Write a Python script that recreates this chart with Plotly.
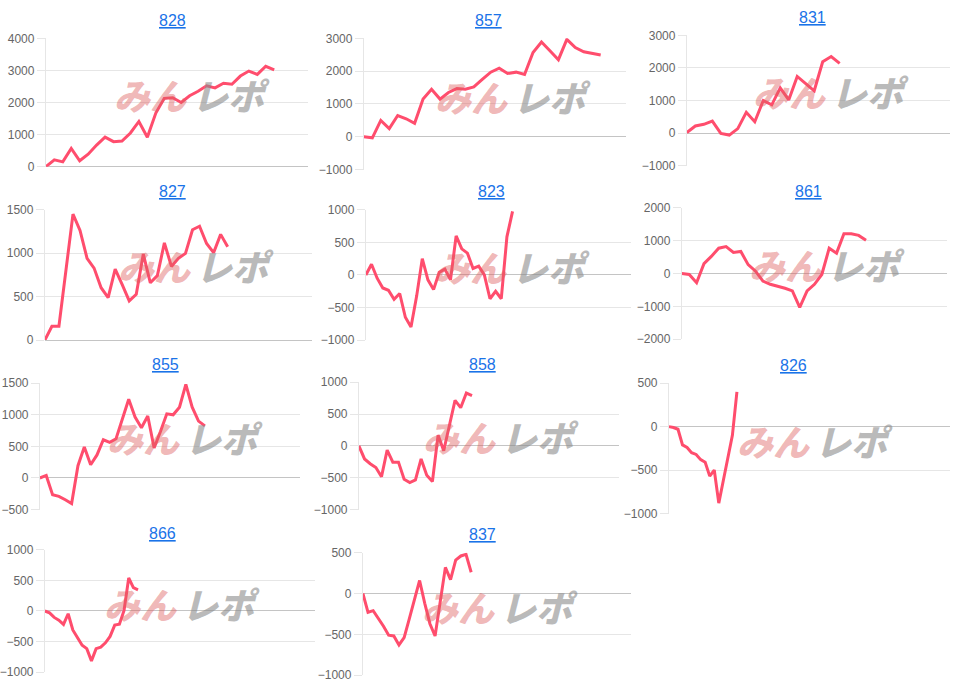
import plotly.graph_objects as go

# ---------------- data ----------------
titles = ["828", "857", "831", "827", "823", "861", "855", "858", "826", "866", "837"]

s828 = [0, 215, 150, 570, 185, 390, 675, 920, 780, 800, 1050, 1410, 920, 1670, 2130, 2150, 2000, 2210,
        2350, 2520, 2455, 2600, 2570, 2825, 2980, 2875, 3130, 3020]
s857 = [0, -30, 500, 250, 650, 550, 410, 1150, 1450, 1150, 1350, 1470, 1450, 1520, 1750, 1970, 2090, 1930,
        1970, 1900, 2570, 2890, 2620, 2350, 2970, 2720, 2590, 2550, 2490]
s831 = [20, 220, 270, 370, -10, -60, 140, 640, 350, 1000, 870, 1390, 1020, 1740, 1520, 1300, 2190, 2350, 2140]
s827 = [0, 160, 160, 800, 1450, 1262, 942, 829, 603, 490, 818, 640, 452, 528, 991, 660, 742, 1119, 848, 942,
        998, 1270, 1311, 1112, 1006, 1217, 1074]
s823 = [0, 165, -50, -200, -235, -375, -285, -650, -800, -325, 250, -75, -225, 40, 90, -75, 600, 400, 335, 100,
        135, 0, -365, -250, -365, 585, 975]
s861 = [0, -30, -280, 300, 520, 770, 820, 640, 670, 270, 70, -230, -330, -380, -450, -530, -1030, -530, -330,
        -30, 770, 620, 1210, 1210, 1160, 1010]
s855 = [0, 40, -265, -290, -345, -405, 195, 490, 210, 365, 605, 565, 620, 930, 1245, 965, 795, 980, 475, 735,
        1015, 1000, 1120, 1480, 1120, 900, 825]
s858 = [0, -205, -280, -340, -485, -65, -255, -255, -525, -575, -535, -205, -460, -560, 170, -75, 320, 715, 600,
        830, 790]
s826 = [0, -10, -30, -210, -240, -300, -320, -380, -410, -570, -500, -880, -620, -380, -100, 400]
s866 = [0, -30, -105, -150, -220, -45, -310, -440, -560, -615, -815, -615, -590, -520, -415, -230, -215, 10, 540,
        380, 345]
s837 = [0, -230, -210, -300, -400, -510, -520, -630, -540, -310, -80, 160, -120, -370, -520, -100, 320, 170, 410,
        460, 480, 260]

series = [s828, s857, s831, s827, s823, s861, s855, s858, s826, s866, s837]

# number of x slots on each panel's category axis
slots = [31, 31, 31, 38, 47, 36, 41, 46, 62, 58, 52]

# y-axis ranges and tick steps
y_ranges = [(0, 4000), (-1000, 3000), (-1000, 3000), (0, 1500), (-1000, 1000), (-2000, 2000),
            (-500, 1500), (-1000, 1000), (-1000, 500), (-1000, 1000), (-1000, 500)]
y_steps = [1000, 1000, 1000, 500, 500, 1000, 500, 500, 500, 500, 500]

# ---------------- layout (pixel boxes) ----------------
W, H = 961, 690
boxes = [  # left, right, top, bottom
    (43, 306, 32, 163), (362, 625, 32, 166), (686, 950, 29, 162),
    (42, 310, 207, 340), (364, 630, 207, 340), (681, 947, 205, 339),
    (37, 298, 384, 513), (357, 618, 383, 513), (668, 950, 384, 517),
    (42, 313, 554, 679), (361, 630, 557, 682),
]
title_pos = [(170, 14), (487, 14), (812, 11), (170, 188), (490, 188), (808, 188),
             (163, 365), (481, 365), (793, 366), (160, 537), (481, 538)]
mark_pos = [(187, 89), (509, 91), (828, 86), (191, 263), (508, 264), (824, 262),
            (180, 439), (497, 438), (812, 442), (177, 608), (496, 611)]

LINE = "#ff4d6d"
GRID = "#e6e6e6"
ZERO = "#c4c4c4"
TICKF = dict(family="Liberation Sans, Arial, sans-serif", size=12, color="#666666")

fig = go.Figure()
annotations = []

for i, (vals, n, yr, st, box) in enumerate(zip(series, slots, y_ranges, y_steps, boxes)):
    k = "" if i == 0 else str(i + 1)
    l, r, t, b = box
    fig.add_trace(go.Scatter(
        x=list(range(len(vals))), y=vals, mode="lines",
        line=dict(color=LINE, width=3), xaxis="x" + k, yaxis="y" + k,
        showlegend=False, hoverinfo="y",
    ))
    fig.update_layout(**{
        "xaxis" + k: dict(domain=[l / W, r / W], range=[0, n], anchor="y" + k,
                          showgrid=False, zeroline=False, showticklabels=False,
                          showline=False, fixedrange=True),
        "yaxis" + k: dict(domain=[1 - b / H, 1 - t / H], range=list(yr), anchor="x" + k,
                          dtick=st, tick0=0, showgrid=True, gridcolor=GRID, gridwidth=1,
                          zeroline=True, zerolinecolor=ZERO, zerolinewidth=1,
                          showline=True, linecolor=GRID, linewidth=1,
                          ticks="outside", ticklen=8, tickcolor=GRID,
                          tickfont=TICKF, fixedrange=True),
    })
    tx, ty = title_pos[i]
    annotations.append(dict(
        text="<u>" + titles[i] + "</u>", x=tx / W, y=1 - ty / H, xref="paper", yref="paper",
        xanchor="center", yanchor="middle", showarrow=False,
        font=dict(family="Liberation Sans, Arial, sans-serif", size=16, color="#1a73e8"),
    ))
    mx, my = mark_pos[i]
    annotations.append(dict(
        text="みん", x=(mx + 1) / W, y=1 - my / H, xref="paper", yref="paper",
        xanchor="right", yanchor="middle", showarrow=False,
        font=dict(family="Noto Sans CJK JP", size=36, color="rgba(222,95,95,0.45)",
                  weight=900, style="italic"),
    ))
    annotations.append(dict(
        text="レポ", x=(mx + 1) / W, y=1 - my / H, xref="paper", yref="paper",
        xanchor="left", yanchor="middle", showarrow=False,
        font=dict(family="Noto Sans CJK JP", size=36, color="rgba(140,140,140,0.6)",
                  weight=900, style="italic"),
    ))

fig.update_layout(
    width=W, height=H, margin=dict(l=0, r=0, t=0, b=0),
    paper_bgcolor="white", plot_bgcolor="white",
    annotations=annotations, showlegend=False,
)

fig.write_html("out.html", config={"displayModeBar": False},
               post_script="document.body.style.margin='0';document.body.style.overflow='hidden';")
